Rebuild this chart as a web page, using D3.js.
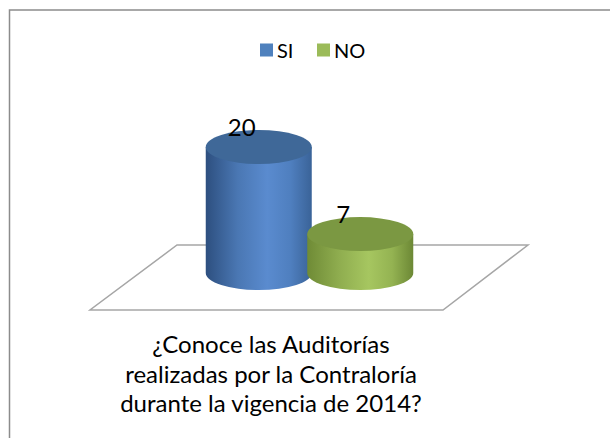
<!DOCTYPE html>
<html>
<head>
<meta charset="utf-8">
<script src="https://cdn.jsdelivr.net/npm/d3@7"></script>
<style>
  body { margin: 0; background: #fff; }
  svg { display: block; }
  text { font-family: Lato, "Open Sans", sans-serif; fill: #000; }
</style>
</head>
<body>
<div id="vis"></div>
<script>
// data
const SERIES = ["SI", "NO"];
const VALUES = [20, 7];
const COLORS = ["#4F81BD", "#9BBB59"];
const TITLE_LINES = ["¿Conoce las Auditorías", "realizadas por la Contraloría", "durante la vigencia de 2014?"];

// frame
const FRAME_WIDTH = 610;
const FRAME_HEIGHT = 438;

const FRAME = d3.select("#vis")
  .append("svg")
  .attr("width", FRAME_WIDTH)
  .attr("height", FRAME_HEIGHT);

// chart border (only top/left visible in the crop)
FRAME.append("rect")
  .attr("x", 9.5).attr("y", 10)
  .attr("width", 700).attr("height", 500)
  .attr("fill", "none")
  .attr("stroke", "#8c8c8c")
  .attr("stroke-width", 1.5);

// gradients for cylinder bodies
const defs = FRAME.append("defs");
const GRADS = [
  ["#2d4f7f", "#4a77b3", "#5a8bcf", "#4f7fbf", "#3a6398"],
  ["#6f8b36", "#8fad4f", "#a6c660", "#94b352", "#6c8835"]
];
GRADS.forEach((stops, i) => {
  const g = defs.append("linearGradient")
    .attr("id", "body" + i)
    .attr("x1", "0%").attr("x2", "100%").attr("y1", "0%").attr("y2", "0%");
  const offs = [0, 0.3, 0.58, 0.8, 1];
  stops.forEach((c, j) => {
    g.append("stop").attr("offset", offs[j]).attr("stop-color", c);
  });
});
const TOPS = ["#3f6898", "#7b9842"];

// legend
const legend = FRAME.append("g");
const LEGEND_X = [260, 317];
SERIES.forEach((s, i) => {
  legend.append("rect")
    .attr("x", LEGEND_X[i]).attr("y", 43.5)
    .attr("width", 13).attr("height", 13)
    .attr("fill", COLORS[i]);
  legend.append("text")
    .attr("x", LEGEND_X[i] + 17).attr("y", 58)
    .attr("font-size", "20px")
    .text(s);
});

// floor
const FLOOR_TOP = 245, FLOOR_BOTTOM = 310;
FRAME.append("path")
  .attr("d", "M177," + FLOOR_TOP + "L528," + FLOOR_TOP + "L443," + FLOOR_BOTTOM + "L90," + FLOOR_BOTTOM + "Z")
  .attr("fill", "#fff")
  .attr("stroke", "#a6a6a6")
  .attr("stroke-width", 1.5);

// scales
const X_SCALE = d3.scaleBand()
  .domain(SERIES)
  .range([208, 411])
  .padding(0);

const Y_SCALE = d3.scaleLinear()
  .domain([0, 20])
  .range([281, 147]);

const RX = 53, RY = 17, BASE = 273;

// cylinders
SERIES.forEach((s, i) => {
  const cx = X_SCALE(s) + X_SCALE.bandwidth() / 2;
  const top = Y_SCALE(VALUES[i]);
  const g = FRAME.append("g");

  g.append("path")
    .attr("d", "M" + (cx - RX) + "," + top +
      "L" + (cx - RX) + "," + BASE +
      "A" + RX + "," + RY + " 0 0 0 " + (cx + RX) + "," + BASE +
      "L" + (cx + RX) + "," + top + "Z")
    .attr("fill", "url(#body" + i + ")");

  g.append("ellipse")
    .attr("cx", cx).attr("cy", top)
    .attr("rx", RX).attr("ry", RY)
    .attr("fill", TOPS[i]);

  // value label
  FRAME.append("text")
    .attr("x", cx - 17).attr("y", top - 11)
    .attr("text-anchor", "middle")
    .attr("font-size", "24px")
    .text(VALUES[i]);
});

// category title, sized so the middle line is ~292px wide
const title = FRAME.append("g");
const BASELINES = [353, 383, 412];
let probe = title.append("text").attr("font-size", "20px").text(TITLE_LINES[1]);
let fs = 20 * 292 / probe.node().getComputedTextLength();
probe.remove();
TITLE_LINES.forEach((t, i) => {
  title.append("text")
    .attr("x", 271).attr("y", BASELINES[i])
    .attr("text-anchor", "middle")
    .attr("font-size", fs + "px")
    .text(t);
});
</script>
</body>
</html>
